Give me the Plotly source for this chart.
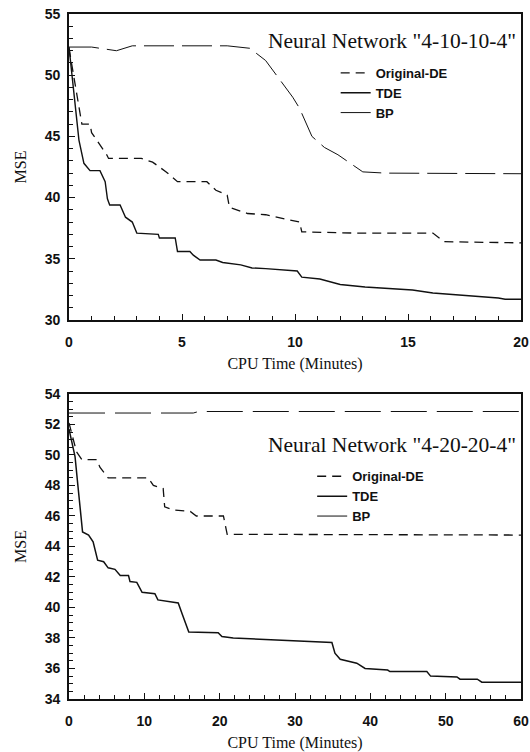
import plotly.graph_objects as go

# ---------------- data ----------------
# Top panel: Neural Network "4-10-10-4"
t1_de_x = [0, 0.44, 0.57, 0.93, 1.0, 1.67, 1.75, 3.2, 3.7, 4.3, 4.8, 6.1, 6.5, 7.0, 7.1, 7.9, 8.7, 10.2, 10.3, 12.7, 16.1, 16.6, 20]
t1_de_y = [52.2, 47.3, 46.0, 46.0, 45.3, 43.5, 43.2, 43.2, 42.9, 42.1, 41.3, 41.3, 40.6, 40.2, 39.2, 38.7, 38.6, 38.0, 37.2, 37.1, 37.1, 36.4, 36.3]

t1_tde_x = [0, 0.44, 0.66, 0.93, 1.37, 1.6, 1.7, 1.8, 2.26, 2.5, 2.8, 3.0, 3.95, 4.0, 4.7, 4.8, 5.35, 5.5, 5.8, 6.5, 6.8, 7.6, 8.1, 8.7,
            10.1, 10.3, 11.1, 12.0, 13.1, 15.2, 16.1, 17.8, 19.0, 19.3, 20]
t1_tde_y = [52.3, 44.7, 42.8, 42.2, 42.2, 41.3, 39.9, 39.4, 39.4, 38.4, 38.0, 37.1, 37.0, 36.7, 36.7, 35.6, 35.6, 35.3, 34.9, 34.9, 34.7, 34.5, 34.25, 34.2,
            34.0, 33.5, 33.35, 32.9, 32.7, 32.45, 32.2, 32.0, 31.8, 31.7, 31.7]

t1_bp_x = [0, 1.0, 2.1, 2.8, 7.0, 8.0, 8.7, 9.9, 10.2, 10.75, 11.3, 11.9, 13.0, 14.0, 20]
t1_bp_y = [52.3, 52.3, 52.0, 52.4, 52.4, 52.2, 51.2, 48.2, 47.3, 45.0, 44.1, 43.5, 42.1, 42.0, 41.95]

# Bottom panel: Neural Network "4-20-20-4"
t2_de_x = [0, 1.0, 1.7, 3.7, 4.1, 5.2, 10.5, 11.2, 12.5, 12.7, 13.8, 16.1, 16.9, 20.5, 21.0, 60]
t2_de_y = [52.1, 50.2, 49.7, 49.7, 49.2, 48.5, 48.5, 48.0, 47.8, 46.6, 46.4, 46.3, 46.0, 46.0, 44.8, 44.75]

t2_tde_x = [0, 0.8, 1.2, 1.5, 1.8, 2.6, 3.2, 3.8, 4.6, 5.2, 6.1, 6.8, 7.9, 8.1, 9.0, 9.7, 10.3, 11.4, 11.8, 13.2, 14.5, 15.0, 15.4, 15.9,
            19.8, 20.3, 21.8, 25.8, 31.6, 32.2, 34.9, 35.3, 36.0, 38.2, 39.3, 42.3, 42.6, 47.5, 48.0, 51.5, 51.9, 54.2, 54.8, 60]
t2_tde_y = [51.7, 49.9, 47.9, 46.2, 44.95, 44.75, 44.3, 43.1, 43.0, 42.6, 42.5, 42.1, 42.1, 41.7, 41.65, 41.0, 40.95, 40.9, 40.5, 40.4, 40.3, 39.6, 39.05, 38.4,
            38.35, 38.1, 38.0, 37.9, 37.8, 37.75, 37.7, 37.0, 36.6, 36.35, 36.0, 35.9, 35.8, 35.8, 35.5, 35.45, 35.3, 35.3, 35.1, 35.1]

t2_bp_x = [0, 16.5, 17.2, 60]
t2_bp_y = [52.75, 52.75, 52.85, 52.85]

titles = ['Neural Network "4-10-10-4"', 'Neural Network "4-20-20-4"']
names = ["Original-DE", "TDE", "BP"]

# ---------------- figure ----------------
INK = "#111111"
SANS = "Liberation Sans, Arial, sans-serif"
SERIF = "Liberation Serif, Times New Roman, serif"

fig = go.Figure()

def add(x, y, name, dash, width, xa, ya, leg):
    fig.add_trace(go.Scatter(x=x, y=y, name=name, mode="lines",
                             line=dict(color=INK, width=width, dash=dash),
                             xaxis=xa, yaxis=ya, legend=leg))

add(t1_de_x, t1_de_y, names[0], "9px,6px", 1.3, "x", "y", "legend")
add(t1_tde_x, t1_tde_y, names[1], "solid", 1.4, "x", "y", "legend")
add(t1_bp_x, t1_bp_y, names[2], "30px,8px", 1.0, "x", "y", "legend")

add(t2_de_x, t2_de_y, names[0], "9px,6px", 1.3, "x2", "y2", "legend2")
add(t2_tde_x, t2_tde_y, names[1], "solid", 1.5, "x2", "y2", "legend2")
add(t2_bp_x, t2_bp_y, names[2], "36px,10px", 1.0, "x2", "y2", "legend2")

tickfont = dict(family=SANS, size=14, color=INK, weight="bold")
titlefont = dict(family=SERIF, size=16, color=INK)

def xax(rng, dtick, minor, anchor):
    return dict(range=rng, dtick=dtick, tick0=0, anchor=anchor, domain=[0, 1],
                automargin=False,
                showline=True, linewidth=1.6, linecolor=INK, mirror=True,
                ticks="inside", ticklen=6, tickwidth=1, tickcolor=INK,
                minor=dict(ticks="inside", dtick=minor, ticklen=4, tickcolor=INK),
                showgrid=False, zeroline=False, tickfont=tickfont,
                ticklabelstandoff=8,
                title=dict(text="CPU Time (Minutes)", font=titlefont, standoff=9))

def yax(rng, dtick, minor, anchor, dom):
    return dict(range=rng, dtick=dtick, anchor=anchor, domain=dom,
                automargin=False,
                showline=True, linewidth=1.6, linecolor=INK, mirror=True,
                ticks="inside", ticklen=6, tickwidth=1, tickcolor=INK,
                minor=dict(ticks="inside", dtick=minor, ticklen=4, tickcolor=INK),
                showgrid=False, zeroline=False, tickfont=tickfont,
                ticklabelstandoff=4,
                title=dict(text="MSE", font=titlefont, standoff=14))

legfont = dict(family=SANS, size=13, color=INK, weight="bold")

fig.update_layout(
    width=530, height=752,
    margin=dict(l=69, r=9, t=14, b=53, autoexpand=False),
    paper_bgcolor="white", plot_bgcolor="white",
    xaxis=xax([0, 20], 5, 1, "y"),
    yaxis=yax([30, 55], 5, 1, "x", [0.5533, 1]),
    xaxis2=xax([0, 60], 10, 2, "y2"),
    yaxis2=yax([34, 54], 2, 0.5, "x2", [0, 0.4453]),
    legend=dict(x=0.59, y=0.936, xanchor="left", yanchor="top", xref="paper", yref="paper",
                font=legfont, bgcolor="rgba(0,0,0,0)", tracegroupgap=0, itemwidth=30),
    legend2=dict(x=0.538, y=0.347, xanchor="left", yanchor="top", xref="paper", yref="paper",
                 font=legfont, bgcolor="rgba(0,0,0,0)", tracegroupgap=0, itemwidth=30),
    annotations=[
        dict(text=titles[0], xref="x domain", yref="y domain", x=0.994, y=0.912,
             xanchor="right", yanchor="middle", showarrow=False,
             font=dict(family=SERIF, size=21.5, color=INK)),
        dict(text=titles[1], xref="x2 domain", yref="y2 domain", x=0.994, y=0.834,
             xanchor="right", yanchor="middle", showarrow=False,
             font=dict(family=SERIF, size=21.5, color=INK)),
    ],
)

fig.write_html("out.html")
